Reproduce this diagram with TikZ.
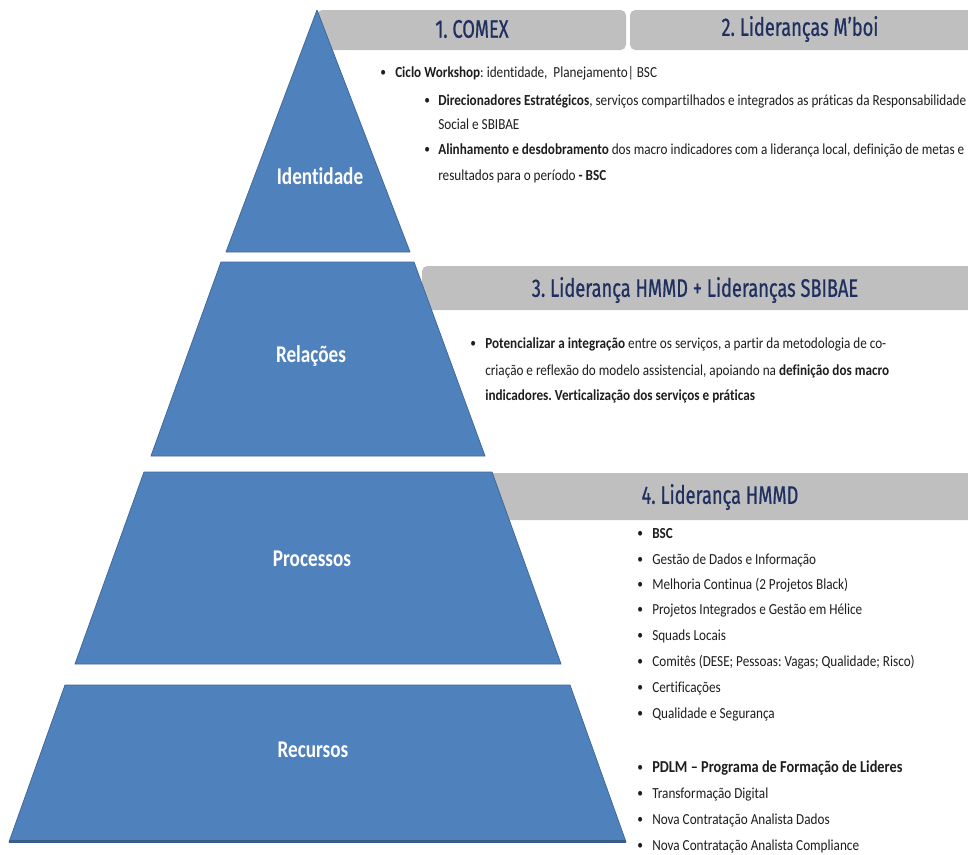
\documentclass[tikz,border=0pt]{standalone}
\usepackage{fontspec}
\setmainfont{Carlito}
\frenchspacing
\newfontfamily\bodyf[FakeStretch=0.86, Ligatures=NoCommon]{Carlito}
\newfontfamily\labf[FakeStretch=0.8, Ligatures=NoCommon]{Carlito}
\newfontfamily\headf[FakeStretch=0.72, FakeBold=0.6]{Fira Sans}
\definecolor{txt}{HTML}{1E1E1E}
\definecolor{navy}{HTML}{1F2F5F}
\definecolor{bandgray}{HTML}{BFBFBF}
\definecolor{pyr}{HTML}{4F81BD}
\definecolor{pyredge}{HTML}{41699A}
\definecolor{pyrdark}{HTML}{385D8A}
\begin{document}
\begin{tikzpicture}[x=0.75pt,y=-0.75pt,
  body/.style={anchor=base west, inner sep=0pt, font=\bodyf\frenchspacing\fontsize{11.5}{13}\selectfont, text=txt},
  bodybig/.style={anchor=base west, inner sep=0pt, font=\bodyf\bfseries\fontsize{12.5}{14}\selectfont, text=txt},
  bul/.style={anchor=base west, inner sep=0pt, font=\bodyf\fontsize{10}{12}\selectfont, text=txt},
  head/.style={inner sep=0pt, font=\headf\fontsize{19}{22}\selectfont, text=navy},
  lab/.style={inner sep=0pt, font=\labf\bfseries\fontsize{18}{20}\selectfont, text=white},
  band/.style={fill=bandgray, draw=none, rounded corners=4pt},
  layer/.style={fill=pyr, draw=pyredge, line width=0.6pt, line join=round}]
\useasboundingbox (0,0) rectangle (968,854);
\fill[white] (0,0) rectangle (968,854);

% header bands
\fill[band] (317,10) rectangle (626,50);
\fill[band] (630,10) rectangle (976,50);
\fill[band] (422,266) rectangle (976,310);
\fill[band] (472,473) rectangle (976,520);

% pyramid layers
\draw[layer] (317,10) -- (410,252) -- (226,252) -- cycle;
\draw[layer] (221,262) -- (414,262) -- (485,456) -- (151,456) -- cycle;
\draw[layer] (144,472) -- (492,472) -- (561,664) -- (75,664) -- cycle;
\draw[layer] (65,685) -- (570,685) -- (626,842) -- (9,842) -- cycle;
\draw[pyrdark, line width=2pt] (9,841.5) -- (626,841.5);

% layer labels
\node[lab] (lid) at (320,176) {Identidade};
\node[lab] (lrel) at (311,356) {Relações};
\node[lab] (lpro) at (312,559) {Processos};
\node[lab] (lrec) at (313,750) {Recursos};

% header texts
\node[head] (h1) at (472,29) {1. COMEX};
\node[head] (h2) at (800,29) {2. Lideranças M’boi};
\node[head] (h3) at (695,290) {3. Liderança HMMD + Lideranças SBIBAE};
\node[head] (h4) at (720,497) {4. Liderança HMMD};

% section 1
\node[bul] (s1b1) at (380,76) {•};
\node[body] (s1t1) at (395,77) {\textbf{Ciclo Workshop}: identidade,~ Planejamento| BSC};
\node[bul] (s1b2) at (424,104) {•};
\node[body] (s1t2) at (438,105) {\textbf{Direcionadores Estratégicos}, serviços compartilhados e integrados as práticas da Responsabilidade};
\node[body] (s1t3) at (438,129) {Social e SBIBAE};
\node[bul] (s1b4) at (424,153) {•};
\node[body] (s1t4) at (438,154) {\textbf{Alinhamento e desdobramento} dos macro indicadores com a liderança local, definição de metas e};
\node[body] (s1t5) at (438,180) {resultados para o período \textbf{- BSC}};

% section 3
\node[bul] (s3b1) at (470,347) {•};
\node[body] (s3t1) at (485,348) {\textbf{Potencializar a integração} entre os serviços, a partir da metodologia de co-};
\node[body] (s3t2) at (485,375) {criação e reflexão do modelo assistencial, apoiando na \textbf{definição dos macro}};
\node[body] (s3t3) at (485,400) {\textbf{indicadores. Verticalização dos serviços e práticas}};

% section 4
\foreach \yy/\tt [count=\i] in {538.5/\textbf{BSC},
  564.5/Gestão de Dados e Informação,
  589.5/Melhoria Continua (2 Projetos Black),
  614.5/Projetos Integrados e Gestão em Hélice,
  640.5/Squads Locais,
  666.5/Comitês (DESE; Pessoas: Vagas; Qualidade; Risco),
  692.5/Certificações,
  718.5/Qualidade e Segurança,
  798.5/Transformação Digital,
  824.5/Nova Contratação Analista Dados,
  850.5/Nova Contratação Analista Compliance}{
  \node[bul] (s4b\i) at (637,\yy-1) {•};
  \node[body] (s4t\i) at (652,\yy) {\tt};
}
\node[bul] (s4bp) at (637,771.5) {•};
\node[bodybig] (s4tp) at (652,772.5) {PDLM – Programa de Formação de Lideres};
\end{tikzpicture}
\end{document}
